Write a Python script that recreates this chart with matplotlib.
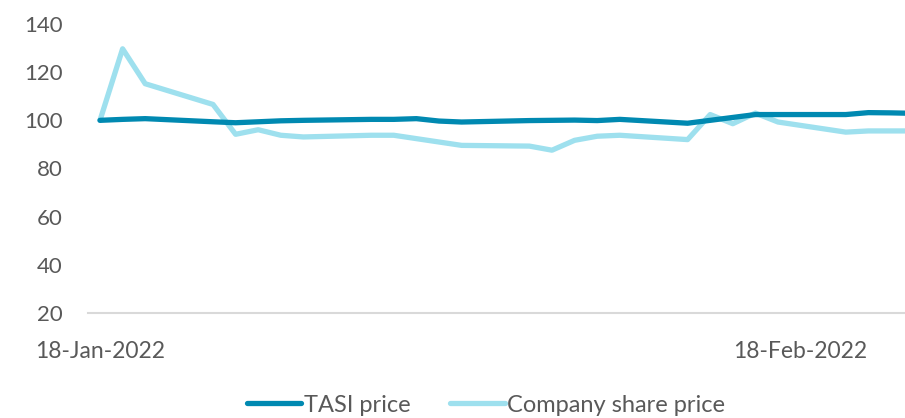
import matplotlib
matplotlib.use("Agg")
import matplotlib.pyplot as plt
import matplotlib.dates as mdates
import pandas as pd

dates = ["2022-01-18", "2022-01-19", "2022-01-20", "2022-01-23", "2022-01-24",
         "2022-01-25", "2022-01-26", "2022-01-27", "2022-01-30", "2022-01-31",
         "2022-02-01", "2022-02-02", "2022-02-03", "2022-02-06", "2022-02-07",
         "2022-02-08", "2022-02-09", "2022-02-10", "2022-02-13", "2022-02-14",
         "2022-02-15", "2022-02-16", "2022-02-17", "2022-02-20", "2022-02-21",
         "2022-02-22", "2022-02-23"]
tasi = [100.0, 100.4, 100.7, 99.4, 99.0, 99.4, 99.8, 100.0, 100.4, 100.4,
        100.7, 99.7, 99.3, 99.9, 100.0, 100.1, 99.9, 100.4, 98.8, 100.0,
        101.2, 102.4, 102.4, 102.4, 103.2, 103.1, 102.9]
company = [100.0, 129.7, 115.2, 106.6, 94.2, 96.1, 93.8, 93.1, 93.8, 93.8,
           92.4, 91.0, 89.6, 89.3, 87.6, 91.7, 93.4, 93.8, 92.0, 102.4,
           98.6, 103.0, 99.3, 95.1, 95.6, 95.6, 95.6]
series_names = ["TASI price", "Company share price"]
y_ticks = [20, 40, 60, 80, 100, 120, 140]
x_tick_dates = ["2022-01-18", "2022-02-18"]

plt.rcParams['font.family'] = ['Lato', 'DejaVu Sans']
x = pd.to_datetime(dates)

fig = plt.figure(figsize=(9.05, 4.18), dpi=100)
ax = fig.add_axes([88/905, 1-313/418, 1-88/905, (313-24)/418])

c_tasi = "#0089B1"
c_comp = "#9EE0EE"
ax.plot(x, tasi, color=c_tasi, lw=3.8, label=series_names[0], solid_capstyle="round", zorder=3)
ax.plot(x, company, color=c_comp, lw=3.8, label=series_names[1], solid_capstyle="round", zorder=2)

start = pd.Timestamp("2022-01-18")
ax.set_xlim(mdates.date2num(start - pd.Timedelta(days=0.531)),
            mdates.date2num(start + pd.Timedelta(days=35.62)))
ax.set_ylim(20, 140)
ax.set_yticks(y_ticks)
ax.set_xticks(pd.to_datetime(x_tick_dates))
ax.xaxis.set_major_formatter(mdates.DateFormatter("%d-%b-%Y"))

for s in ["top", "right", "left"]:
    ax.spines[s].set_visible(False)
ax.spines["bottom"].set_color("#D9D9D9")
ax.spines["bottom"].set_linewidth(1.5)
ax.tick_params(axis="both", length=0, colors="#595959")
ax.tick_params(axis="y", pad=18, labelsize=16)
ax.tick_params(axis="x", pad=20, labelsize=16.5)

leg = fig.legend(loc="center", bbox_to_anchor=(0.537, 0.031), ncol=2, frameon=False,
                 fontsize=17, handlelength=2.3, handletextpad=0.1, columnspacing=1.7)
for t in leg.get_texts():
    t.set_color("#595959")

fig.savefig("out.png", dpi=100)
